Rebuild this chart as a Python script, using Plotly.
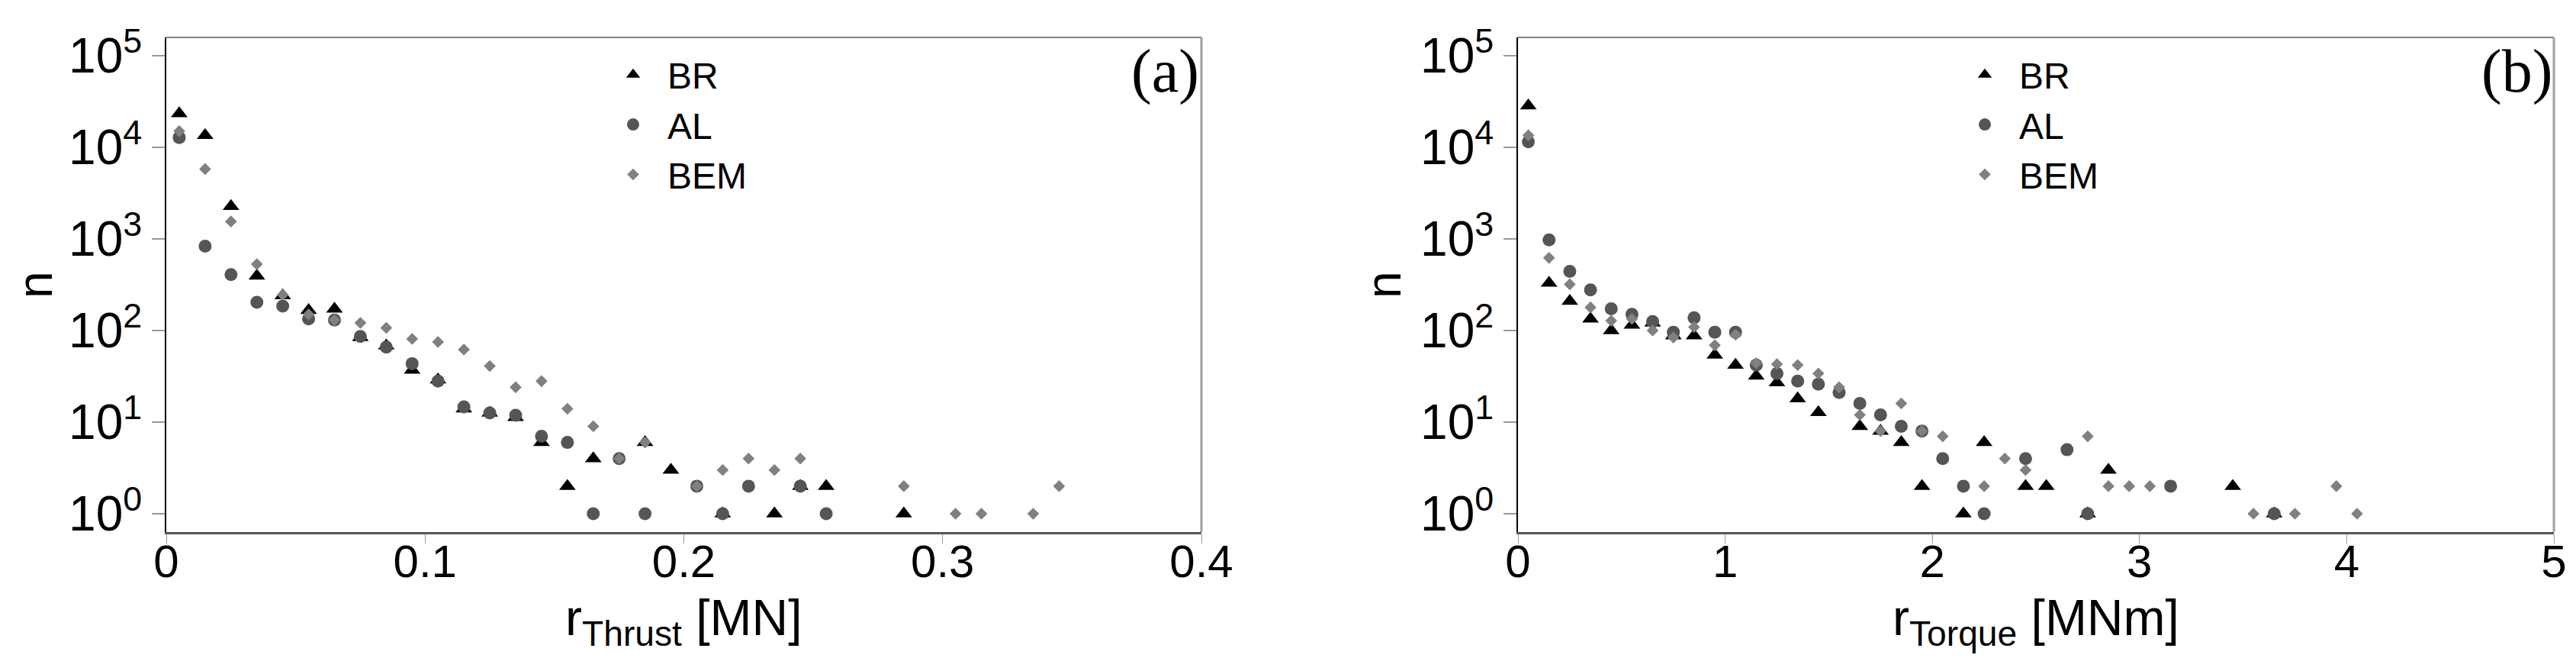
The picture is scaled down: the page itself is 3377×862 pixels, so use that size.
import plotly.graph_objects as go

# ---------------- data: panel (a) thrust ----------------
a_br_x = [0.005, 0.015, 0.025, 0.035, 0.045, 0.055, 0.065, 0.075, 0.085, 0.095, 0.105, 0.115,
          0.125, 0.135, 0.145, 0.155, 0.165, 0.185, 0.195, 0.215, 0.235, 0.245, 0.255, 0.285]
a_br_n = [23400, 13500, 2270, 394, 240, 166, 172, 84, 68, 37, 29, 14,
          12.6, 11.3, 6, 2, 4, 6, 3, 1, 1, 2, 2, 1]

a_al_x = [0.005, 0.015, 0.025, 0.035, 0.045, 0.055, 0.065, 0.075, 0.085, 0.095, 0.105, 0.115,
          0.125, 0.135, 0.145, 0.155, 0.165, 0.175, 0.185, 0.205, 0.215, 0.225, 0.245, 0.255]
a_al_n = [12800, 834, 407, 203, 185, 134, 130, 86, 66, 43.5, 28, 14.7,
          12.6, 11.9, 7, 6, 1, 4, 1, 2, 1, 2, 2, 1]

a_bem_x = [0.005, 0.015, 0.025, 0.035, 0.045, 0.055, 0.065, 0.075, 0.085, 0.095, 0.105, 0.115,
           0.125, 0.135, 0.145, 0.155, 0.165, 0.175, 0.185, 0.205, 0.215, 0.225, 0.235, 0.245,
           0.285, 0.305, 0.315, 0.335, 0.345]
a_bem_n = [15000, 5800, 1550, 530, 245, 150, 130, 121, 107, 81, 75, 62,
           41, 24, 28, 14, 9, 4, 6, 2, 3, 4, 3, 4,
           2, 1, 1, 1, 2]

# ---------------- data: panel (b) torque ----------------
b_br_x = [0.05, 0.15, 0.25, 0.35, 0.45, 0.55, 0.65, 0.75, 0.85, 0.95, 1.05, 1.15, 1.25, 1.35, 1.45,
          1.65, 1.75, 1.85, 1.95, 2.15, 2.25, 2.45, 2.55, 2.75, 2.85, 3.45, 3.65]
b_br_n = [28500, 330, 209, 134, 100, 115, 121, 88, 88, 54, 42, 32, 27, 18, 12.8,
          9, 8, 6, 2, 1, 6, 2, 2, 1, 3, 2, 1]

b_al_x = [0.05, 0.15, 0.25, 0.35, 0.45, 0.55, 0.65, 0.75, 0.85, 0.95, 1.05, 1.15, 1.25, 1.35, 1.45,
          1.55, 1.65, 1.75, 1.85, 1.95, 2.05, 2.15, 2.25, 2.45, 2.65, 2.75, 3.15, 3.65]
b_al_n = [11500, 977, 443, 278, 173, 150, 125, 96, 138, 96, 96, 42, 34, 28, 26,
          21, 16, 12, 9, 8, 4, 2, 1, 4, 5, 1, 2, 1]

b_bem_x = [0.05, 0.15, 0.25, 0.35, 0.45, 0.55, 0.65, 0.75, 0.85, 0.95, 1.05, 1.15, 1.25, 1.35, 1.45,
           1.55, 1.65, 1.75, 1.85, 1.95, 2.05, 2.25, 2.35, 2.45, 2.75, 2.85, 2.95, 3.05, 3.55, 3.75,
           3.95, 4.05]
b_bem_n = [13500, 621, 320, 179, 128, 134, 100, 84, 109, 69, 90, 44, 43, 42, 34,
           24, 12, 8, 16, 8, 7, 2, 4, 3, 7, 2, 2, 2, 1, 1,
           2, 1]

series_names = ["BR", "AL", "BEM"]
a_ticks = [0, 0.1, 0.2, 0.3, 0.4]
a_ticktext = ["0", "0.1", "0.2", "0.3", "0.4"]
b_ticks = [0, 1, 2, 3, 4, 5]
b_ticktext = ["0", "1", "2", "3", "4", "5"]
y_ticks = [1, 10, 100, 1000, 10000, 100000]
y_ticktext = ["10<sup>0</sup>", "10<sup>1</sup>", "10<sup>2</sup>", "10<sup>3</sup>",
              "10<sup>4</sup>", "10<sup>5</sup>"]
x_titles = ["r<sub>Thrust</sub> [MN]", "r<sub>Torque</sub> [MNm]"]
y_title = "n"
panel_labels = ["(a)", "(b)"]

# ---------------- styling ----------------
W, H = 3377, 862
FONT = "Liberation Sans, Arial, sans-serif"
styles = {
    "BR": dict(symbol="triangle-up", size=19, color="#000000"),
    "AL": dict(symbol="circle", size=17, color="#555555"),
    "BEM": dict(symbol="diamond", size=12, color="#808080"),
}


def px_x(p):
    return p / W


def px_y(p):
    return 1 - p / H


fig = go.Figure()

panels = [
    ("x", "y", "legend", [(a_br_x, a_br_n), (a_al_x, a_al_n), (a_bem_x, a_bem_n)]),
    ("x2", "y2", "legend2", [(b_br_x, b_br_n), (b_al_x, b_al_n), (b_bem_x, b_bem_n)]),
]
for xa, ya, leg, data in panels:
    for name, (xs, ns) in zip(series_names, data):
        st = styles[name]
        fig.add_trace(go.Scatter(
            x=xs, y=ns, mode="markers", name=name, xaxis=xa, yaxis=ya, legend=leg,
            marker=dict(symbol=st["symbol"], size=st["size"], color=st["color"],
                        line=dict(width=0)),
        ))

TOP, BOT = 41, 689
A_L, A_R = 210, 1567
B_L, B_R = 1982, 3340
y_dom = [px_y(BOT), px_y(TOP)]
a_dom = [px_x(A_L), px_x(A_R)]
b_dom = [px_x(B_L), px_x(B_R)]

common_x = dict(showline=True, linecolor="#555555", linewidth=3, ticks="outside",
                ticklen=12, tickwidth=1, tickcolor="#9a9a9a", showgrid=False, zeroline=False,
                tickfont=dict(family=FONT, size=60, color="#000"), automargin=False,
                ticklabelstandoff=-28)
common_y = dict(type="log", range=[-0.2, 5.2], tickvals=y_ticks, ticktext=y_ticktext,
                showline=True, linecolor="#000000", linewidth=2, ticks="outside",
                ticklen=17, tickwidth=2, tickcolor="#9a9a9a", showgrid=False, zeroline=False,
                tickfont=dict(family=FONT, size=64, color="#000"), automargin=False)

legend_common = dict(xanchor="left", yanchor="top", bgcolor="rgba(0,0,0,0)", borderwidth=0,
                     itemwidth=80, font=dict(family=FONT, size=48, color="#000"))

fig.update_layout(
    width=W, height=H,
    margin=dict(l=0, r=0, t=0, b=0),
    paper_bgcolor="white", plot_bgcolor="white",
    font=dict(family=FONT, color="#000"),
    xaxis=dict(domain=a_dom, anchor="y", range=[0, 0.4], tickvals=a_ticks, ticktext=a_ticktext,
               **common_x),
    yaxis=dict(domain=y_dom, anchor="x", **common_y),
    xaxis2=dict(domain=b_dom, anchor="y2", range=[0, 5], tickvals=b_ticks, ticktext=b_ticktext,
                **common_x),
    yaxis2=dict(domain=y_dom, anchor="x2", **common_y),
    legend=dict(x=px_x(777), y=px_y(52), **legend_common),
    legend2=dict(x=px_x(2549), y=px_y(52), **legend_common),
    showlegend=True,
)

# plot frame (top and right borders, lighter gray)
for xd, yd in [("x domain", "y domain"), ("x2 domain", "y2 domain")]:
    fig.add_shape(type="line", xref=xd, yref=yd, x0=0, x1=1, y0=1, y1=1,
                  line=dict(color="#808080", width=2))
    fig.add_shape(type="line", xref=xd, yref=yd, x0=1, x1=1, y0=0, y1=1,
                  line=dict(color="#a0a0a0", width=3))

# axis titles
for (l, r), xt in [((A_L, A_R), x_titles[0]), ((B_L, B_R), x_titles[1])]:
    fig.add_annotation(text=xt, xref="paper", yref="paper", x=px_x((l + r) / 2), y=px_y(806),
                       xanchor="center", yanchor="middle", showarrow=False,
                       font=dict(family=FONT, size=66, color="#000"))
for xp in [38, 1806]:
    fig.add_annotation(text=y_title, xref="paper", yref="paper", x=px_x(xp), y=px_y(365),
                       xanchor="center", yanchor="middle", showarrow=False, textangle=-90,
                       font=dict(family=FONT, size=64, color="#000"))

# panel labels
for txt, xp in zip(panel_labels, [1566, 3340]):
    fig.add_annotation(text=txt, xref="paper", yref="paper", x=px_x(xp), y=px_y(86),
                       xanchor="right", yanchor="middle", showarrow=False,
                       font=dict(family="Liberation Serif, serif", size=80, color="#000"))

fig.write_html("out.html")
